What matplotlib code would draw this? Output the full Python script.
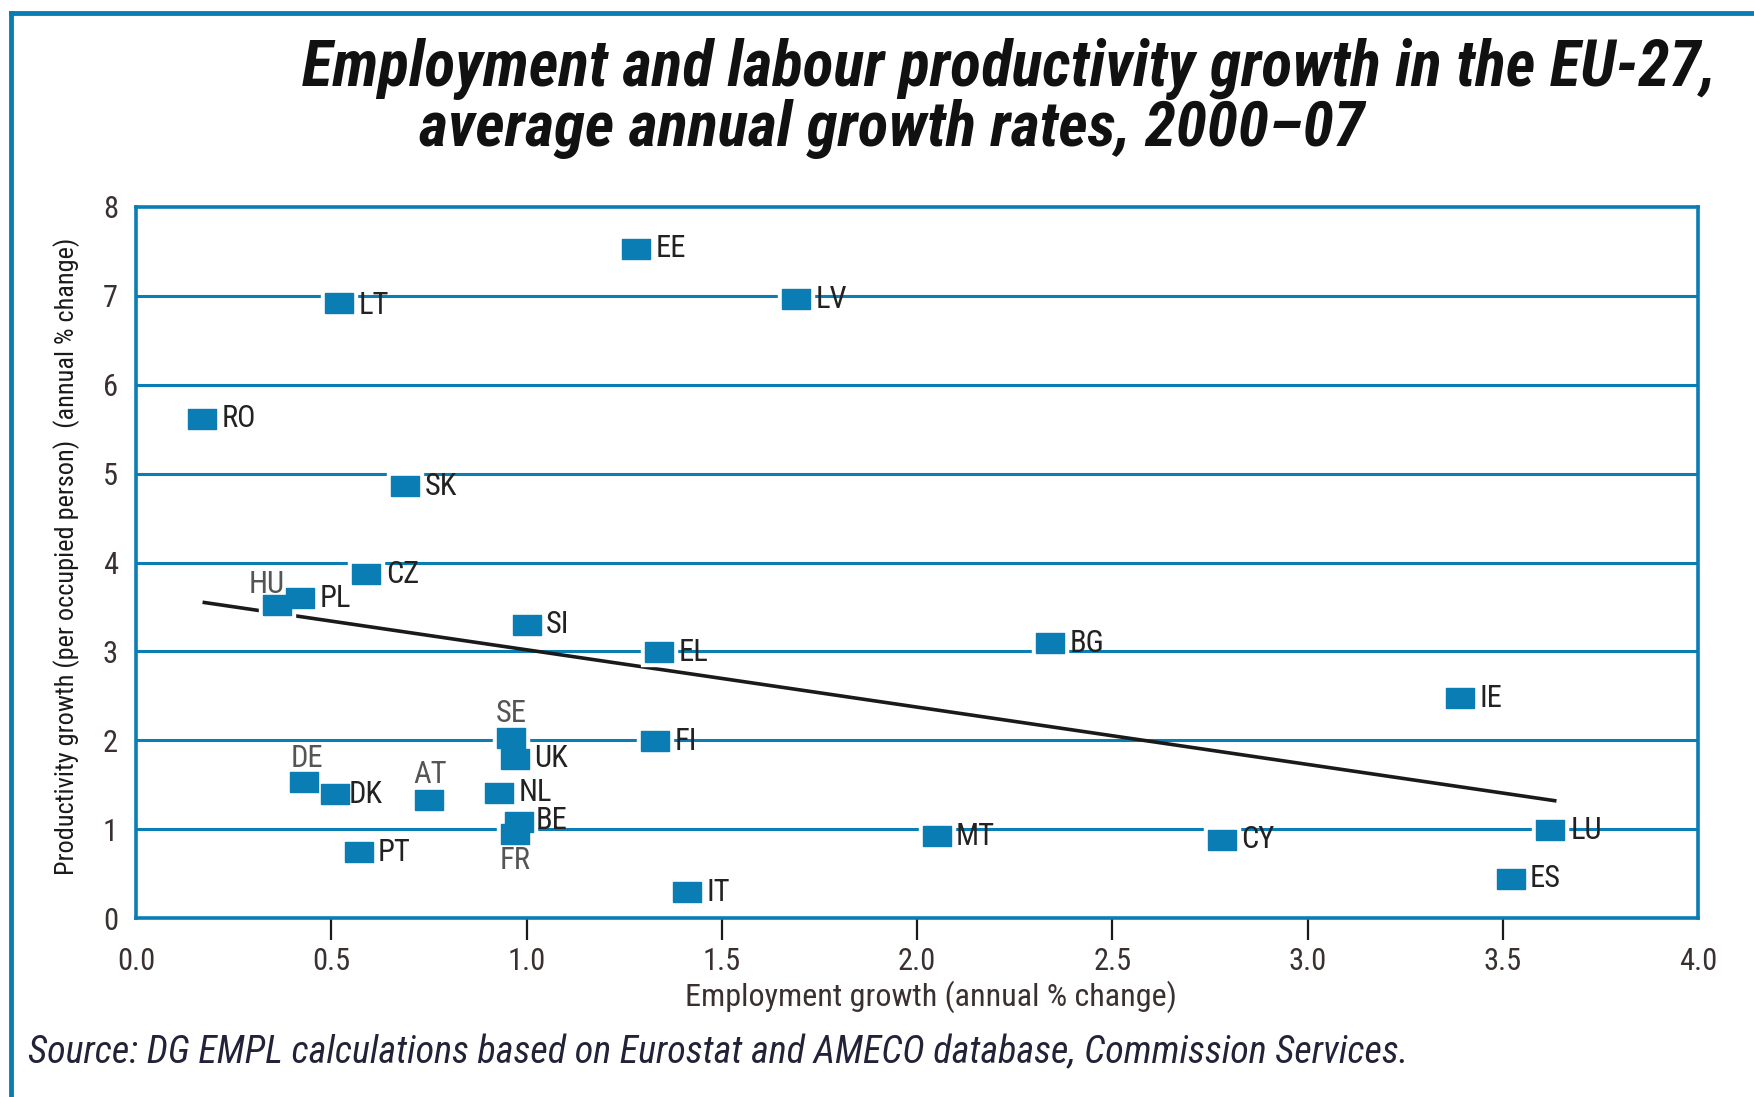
import numpy as np
import matplotlib
matplotlib.use("Agg")
import matplotlib.pyplot as plt
from matplotlib.lines import Line2D

# Data: employment growth (x) vs productivity growth (y), EU-27, 2000-07
countries = ['EE', 'LT', 'LV', 'RO', 'SK', 'CZ', 'HU', 'PL', 'SI', 'EL', 'BG', 'IE',
             'SE', 'FI', 'UK', 'DE', 'DK', 'AT', 'NL', 'BE', 'FR', 'PT', 'IT', 'MT',
             'CY', 'LU', 'ES']
employment = [1.28, 0.52, 1.69, 0.17, 0.69, 0.59, 0.36, 0.42, 1.00, 1.34, 2.34, 3.39,
              0.96, 1.33, 0.97, 0.43, 0.51, 0.75, 0.93, 0.98, 0.97, 0.57, 1.41, 2.05,
              2.78, 3.62, 3.52]
productivity = [7.53, 6.92, 6.96, 5.62, 4.86, 3.87, 3.52, 3.60, 3.30, 2.99, 3.09, 2.47,
                2.03, 1.99, 1.79, 1.53, 1.40, 1.33, 1.41, 1.08, 0.94, 0.74, 0.29, 0.92,
                0.88, 0.99, 0.44]

# trend line end points
trend_x = [0.175, 3.633]
trend_y = [3.55, 1.32]

xticks = [0.0, 0.5, 1.0, 1.5, 2.0, 2.5, 3.0, 3.5, 4.0]
yticks = [0, 1, 2, 3, 4, 5, 6, 7, 8]

# where each label goes relative to its marker (offset in points)
label_pos = {'HU': (-7, 15, 'center'), 'SE': (0, 17, 'center'), 'DE': (2, 17, 'center'),
             'AT': (1, 18, 'center'), 'FR': (0, -19, 'center'), 'LT': (14, -2, 'left'),
             'DK': (10, -1, 'left'), 'BE': (12, 1, 'left'), 'LU': (15, 0, 'left')}

blue = '#0a7db5'
W, H = 1754, 1097
plt.rcParams['font.family'] = ['Roboto Condensed', 'DejaVu Sans']

fig = plt.figure(figsize=(W / 100, H / 100), dpi=100)
ax = fig.add_axes([136 / W, 1 - 918 / H, 1562 / W, 711 / H])

# grid lines
for v in yticks[1:-1]:
    ax.axhline(v, color=blue, lw=2.2, zorder=1)

# trend line
ax.plot(trend_x, trend_y, color='#1a1a1a', lw=2.6, zorder=2)

# rectangular markers with white halo
rect = [(-1.33, -1), (1.33, -1), (1.33, 1), (-1.33, 1), (-1.33, -1)]
ax.plot(employment, productivity, ls='none', marker=rect, markersize=26,
        color='white', zorder=3)
ax.plot(employment, productivity, ls='none', marker=rect, markersize=20,
        color=blue, zorder=4)

for c, x, y in zip(countries, employment, productivity):
    dx, dy, ha = label_pos.get(c, (14, 0, 'left'))
    col = '#555555' if ha == 'center' else '#222222'
    ax.annotate(c, (x, y), xytext=(dx, dy), textcoords='offset points',
                ha=ha, va='center', fontsize=22, color=col, zorder=5)

ax.set_xlim(0, 4)
ax.set_ylim(0, 8)
ax.set_xticks(xticks)
ax.set_xticklabels(['%.1f' % t for t in xticks])
ax.set_yticks(yticks)
ax.tick_params(axis='x', length=16, width=1.6, color='#1a1a1a', pad=5,
               labelsize=22, labelcolor='#3a3030')
ax.tick_params(axis='y', length=0, pad=13, labelsize=22, labelcolor='#3a3030')
ax.xaxis.get_major_ticks()[0].tick1line.set_visible(False)
ax.xaxis.get_major_ticks()[-1].tick1line.set_visible(False)
for s in ax.spines.values():
    s.set_color(blue)
    s.set_linewidth(2.6)

texts = []
xl = fig.text(931 / W, 1 - 997 / H, 'Employment growth (annual % change)', fontsize=22,
              color='#3a3030', ha='center', va='center')
texts.append((xl, 492))
yl = fig.text(67 / W, 1 - 556 / H,
              'Productivity growth (per occupied person)  (annual % change)',
              fontsize=18, color='#1a1a1a', rotation=90, ha='center', va='center')
texts.append((yl, 638))

# title (two lines, second indented)
t1 = fig.text(302 / W, 1 - 86 / H, 'Employment and labour productivity growth in the EU-27,',
              fontsize=38, fontweight='bold', fontstyle='italic', color='#111111',
              ha='left', va='baseline')
texts.append((t1, 1412))
t2 = fig.text(419 / W, 1 - 146 / H, 'average annual growth rates, 2000\u201307',
              fontsize=38, fontweight='bold', fontstyle='italic', color='#111111',
              ha='left', va='baseline')
texts.append((t2, 946))

src = fig.text(28 / W, 1 - 1063 / H,
               'Source: DG EMPL calculations based on Eurostat and AMECO database, Commission Services.',
               fontsize=23, fontstyle='italic', color='#222238', ha='left', va='baseline')
texts.append((src, 1381))

# scale each text so its length matches the reference
renderer = fig.canvas.get_renderer()
for t, target in texts:
    bb = t.get_window_extent(renderer)
    length = max(bb.width, bb.height)
    t.set_fontsize(t.get_fontsize() * target / length)

# blue frame (top and left edges)
fig.add_artist(Line2D([11 / W, 1.0], [1 - 13 / H, 1 - 13 / H],
                      transform=fig.transFigure, color=blue, lw=3.5))
fig.add_artist(Line2D([11 / W, 11 / W], [0.0, 1 - 13 / H],
                      transform=fig.transFigure, color=blue, lw=3.5))

fig.savefig('out.png', dpi=100)
